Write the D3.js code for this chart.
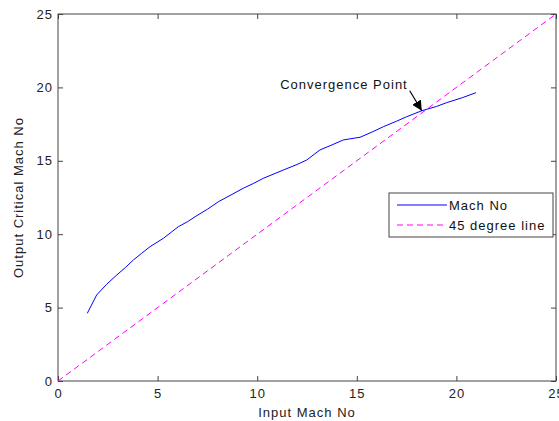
<!DOCTYPE html>
<html>
<head>
<meta charset="utf-8">
<script src="https://cdn.jsdelivr.net/npm/d3@7"></script>
<style>
  body { margin: 0; background: #fff; }
  text { font-family: "Liberation Sans", Arial, sans-serif; letter-spacing: 1px; }
</style>
</head>
<body>
<div id="chart"></div>
<script>
// values
var inputMach = [1.47, 1.94, 2.45, 2.95, 3.4, 3.78, 4.2, 4.62, 5.29, 6.04, 6.5, 6.88, 7.5, 8.05,
                 8.38, 9.3, 9.8, 10.31, 11.31, 12.0, 12.48, 13.15, 13.7, 14.32, 15.0, 15.16,
                 15.8, 16.33, 17.0, 17.5, 18.26, 19.0, 19.51, 20.3, 20.98];
var criticalMach = [4.61, 5.86, 6.6, 7.22, 7.75, 8.24, 8.7, 9.15, 9.72, 10.51, 10.85, 11.19, 11.7, 12.21,
                    12.45, 13.13, 13.45, 13.81, 14.37, 14.75, 15.05, 15.74, 16.05, 16.42, 16.57, 16.6,
                    16.98, 17.32, 17.7, 18.0, 18.41, 18.7, 18.96, 19.3, 19.64];
var diagonal = [0, 25];
var xTicks = [0, 5, 10, 15, 20, 25];
var yTicks = [0, 5, 10, 15, 20, 25];
var seriesNames = ["Mach No", "45 degree line"];
var annotation = {text: "Convergence Point", at: [18.26, 18.41]};

var width = 559, height = 421;
var margin = {left: 58, right: 3, top: 14, bottom: 40};

var svg = d3.select("#chart")
            .append("svg")
            .attr("width", width)
            .attr("height", height)

var x = d3.scaleLinear().domain([0, 25]).range([margin.left, width - margin.right])
var y = d3.scaleLinear().domain([0, 25]).range([height - margin.bottom, margin.top])

var axisColor = "#444"

// box
svg.append("rect")
    .attr("x", x(0)).attr("y", y(25))
    .attr("width", x(25) - x(0)).attr("height", y(0) - y(25))
    .attr("fill", "none").attr("stroke", axisColor).attr("stroke-width", 1)

function styleAxis(g) {
    g.select(".domain").remove()
    g.selectAll(".tick line").attr("stroke", axisColor)
    g.selectAll(".tick text").attr("fill", "#222").style("font-size", "13px")
}

svg.append("g")
    .attr("transform", "translate(0," + y(0) + ")")
    .call(d3.axisBottom(x).tickValues(xTicks).tickSizeInner(-5).tickSizeOuter(0).tickPadding(8))
    .call(styleAxis)

svg.append("g")
    .attr("transform", "translate(" + x(0) + ",0)")
    .call(d3.axisLeft(y).tickValues(yTicks).tickSizeInner(-5).tickSizeOuter(0).tickPadding(5))
    .call(styleAxis)

// mirrored ticks on top and right
svg.append("g")
    .attr("transform", "translate(0," + y(25) + ")")
    .call(d3.axisTop(x).tickValues(xTicks).tickSizeInner(-5).tickSizeOuter(0).tickFormat(""))
    .call(styleAxis)

svg.append("g")
    .attr("transform", "translate(" + x(25) + ",0)")
    .call(d3.axisRight(y).tickValues(yTicks).tickSizeInner(-5).tickSizeOuter(0).tickFormat(""))
    .call(styleAxis)

// axis titles
svg.append("text")
    .attr("x", (x(0) + x(25)) / 2).attr("y", 417)
    .attr("text-anchor", "middle").style("font-size", "13px").attr("fill", "#222")
    .text("Input Mach No")

svg.append("text")
    .attr("transform", "translate(23," + (y(0) + y(25)) / 2 + ") rotate(-90)")
    .attr("text-anchor", "middle").style("font-size", "13px").attr("fill", "#222")
    .text("Output Critical Mach No")

var line = d3.line().x((d) => x(d[0])).y((d) => y(d[1]))

// 45 degree line
svg.append("path")
    .attr("d", line(diagonal.map((v) => [v, v])))
    .attr("fill", "none").attr("stroke", "#ff00ff").attr("stroke-width", 1)
    .attr("stroke-dasharray", "6,4")

// Mach No curve
svg.append("path")
    .attr("d", line(inputMach.map((v, i) => [v, criticalMach[i]])))
    .attr("fill", "none").attr("stroke", "#0000ff").attr("stroke-width", 1)

// annotation arrow
svg.append("defs").append("marker")
    .attr("id", "head").attr("viewBox", "0 0 10 10")
    .attr("refX", 10).attr("refY", 5)
    .attr("markerWidth", 10).attr("markerHeight", 10)
    .attr("markerUnits", "userSpaceOnUse")
    .attr("orient", "auto")
    .append("path").attr("d", "M0,0 L10,5 L0,10 Z").attr("fill", "#000")

var tip = [x(annotation.at[0]), y(annotation.at[1])]
svg.append("line")
    .attr("x1", tip[0] - 12).attr("y1", tip[1] - 20)
    .attr("x2", tip[0]).attr("y2", tip[1])
    .attr("stroke", "#000").attr("stroke-width", 1.2)
    .attr("marker-end", "url(#head)")

svg.append("text")
    .attr("x", tip[0] - 14).attr("y", tip[1] - 22)
    .attr("text-anchor", "end").style("font-size", "13px").attr("fill", "#111")
    .text(annotation.text)

// legend
var legend = svg.append("g").attr("transform", "translate(389,193)")
legend.append("rect")
    .attr("width", 164).attr("height", 44)
    .attr("fill", "#fff").attr("stroke", "#444").attr("stroke-width", 1)

var legendColors = ["#0000ff", "#ff00ff"]
var legendDash = [null, "6,4"]
seriesNames.forEach((name, i) => {
    legend.append("line")
        .attr("x1", 8).attr("x2", 58)
        .attr("y1", 12 + i * 20).attr("y2", 12 + i * 20)
        .attr("stroke", legendColors[i]).attr("stroke-width", 1)
        .attr("stroke-dasharray", legendDash[i])
    legend.append("text")
        .attr("x", 60).attr("y", 17 + i * 20)
        .style("font-size", "13px").attr("fill", "#111")
        .text(name)
})
</script>
</body>
</html>
